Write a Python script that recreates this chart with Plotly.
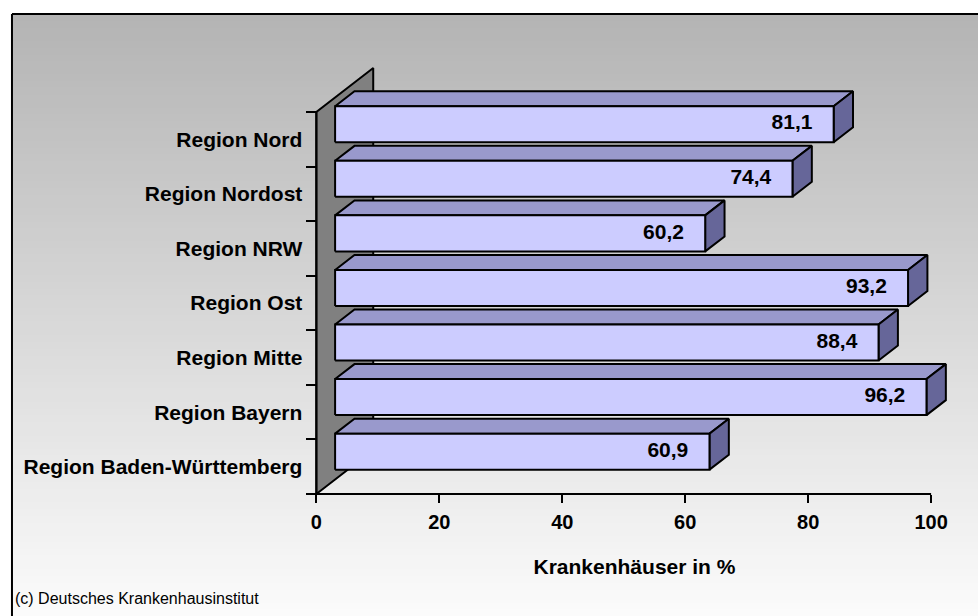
import plotly.graph_objects as go

regions = ["Region Baden-Württemberg", "Region Bayern", "Region Mitte", "Region Ost",
           "Region NRW", "Region Nordost", "Region Nord"]
values = [60.9, 96.2, 88.4, 93.2, 60.2, 74.4, 81.1]
x_ticks = [0, 20, 40, 60, 80, 100]
x_title = "Krankenhäuser in %"
source_note = "(c) Deutsches Krankenhausinstitut"

W, H = 978, 616
FONT = "Liberation Sans, Arial, Helvetica, sans-serif"

# fake 3d: depth of the wall and of the bars, in axis units
WALL_DX, WALL_DY = 9.25, 0.806
FRONT_DX, FRONT_DY = 3.05, 0.276
BAR_DX, BAR_DY = 3.15, 0.274
HALF = 0.33

# pixel layout of the plot (0 -> 315px, 100 -> 931px, categories 112..494px)
px_per_x = (931 - 315) / 100
px_per_y = (494 - 112) / 7
x_range = [-0.5, 104]
y_range = [-0.6, 7.4]
left_px = 315 + x_range[0] * px_per_x
right_px = 315 + x_range[1] * px_per_x
bottom_px = 494 - (y_range[0] + 0.5) * px_per_y
top_px = 494 - (y_range[1] + 0.5) * px_per_y

fig = go.Figure()


def poly(xs, ys, color):
    fig.add_trace(go.Scatter(x=xs + [xs[0]], y=ys + [ys[0]], mode="lines", fill="toself",
                             fillcolor=color, line=dict(color="black", width=2),
                             hoverinfo="skip", showlegend=False))


# side wall
n = len(regions)
poly([0, 0, WALL_DX, WALL_DX],
     [-0.5, n - 0.5, n - 0.5 + WALL_DY, -0.5 + WALL_DY], "#808080")

# bars, back (top) to front (bottom)
for i in reversed(range(n)):
    v = values[i]
    x0, x1 = FRONT_DX, v + FRONT_DX
    y0, y1 = i + FRONT_DY - HALF, i + FRONT_DY + HALF
    poly([x0, x1, x1 + BAR_DX, x0 + BAR_DX], [y1, y1, y1 + BAR_DY, y1 + BAR_DY], "#9999cc")
    poly([x1, x1 + BAR_DX, x1 + BAR_DX, x1], [y0, y0 + BAR_DY, y1 + BAR_DY, y1], "#666699")
    poly([x0, x1, x1, x0], [y0, y0, y1, y1], "#ccccff")

# axis lines
fig.add_trace(go.Scatter(x=[0, 0, x_ticks[-1]], y=[n - 0.5, -0.5, -0.5], mode="lines",
                         line=dict(color="black", width=2), hoverinfo="skip", showlegend=False))

# value labels
fig.add_trace(go.Scatter(
    x=[v - 0.4 for v in values], y=[i + FRONT_DY for i in range(n)], mode="text",
    text=[f"{v:.1f}".replace(".", ",") for v in values],
    textposition="middle left",
    textfont=dict(family=FONT, size=21, color="black", weight="bold"),
    hoverinfo="skip", showlegend=False))

# background gradient + frame
shapes = []
steps = 90
top_y, left_x = 14, 10
for k in range(steps):
    t = k / (steps - 1)
    g = int(round(180 + (251 - 180) * t))
    ya = top_y + (H - top_y) * k / steps
    yb = top_y + (H - top_y) * (k + 1) / steps + 1
    shapes.append(dict(type="rect", xref="paper", yref="paper", layer="below",
                       x0=left_x / W, x1=1, y0=1 - ya / H, y1=1 - yb / H,
                       fillcolor=f"rgb({g},{g},{g})", line=dict(width=0)))
shapes.append(dict(type="line", xref="paper", yref="paper", x0=left_x / W, x1=1,
                   y0=1 - top_y / H, y1=1 - top_y / H, line=dict(color="black", width=2)))
shapes.append(dict(type="line", xref="paper", yref="paper", x0=left_x / W, x1=left_x / W,
                   y0=1 - top_y / H, y1=0, line=dict(color="black", width=2)))

fig.update_layout(
    width=W, height=H, autosize=False,
    margin=dict(l=0, r=0, t=0, b=0),
    paper_bgcolor="white", plot_bgcolor="rgba(0,0,0,0)",
    shapes=shapes,
    xaxis=dict(range=x_range, domain=[left_px / W, right_px / W],
               anchor="free", position=1 - 494 / H,
               tickvals=x_ticks, ticks="outside", ticklen=8, tickwidth=2, tickcolor="black",
               ticklabelstandoff=2,
               showline=False, showgrid=False, zeroline=False,
               tickfont=dict(family=FONT, size=20, color="black", weight="bold"),
               title=dict(text=x_title, standoff=27,
                          font=dict(family=FONT, size=21, color="black", weight="bold"))),
    yaxis=dict(range=y_range, domain=[1 - bottom_px / H, 1 - top_px / H],
               anchor="free", position=315 / W,
               tickvals=list(range(n)), ticktext=regions, ticks="",
               ticklabelstandoff=14,
               minor=dict(tickvals=[i - 0.5 for i in range(n + 1)], ticks="outside",
                          ticklen=10, tickwidth=2, tickcolor="black", showgrid=False),
               showline=False, showgrid=False, zeroline=False,
               tickfont=dict(family=FONT, size=21, color="black", weight="bold")),
    annotations=[dict(text=source_note, xref="paper", yref="paper", x=left_x / W + 0.001,
                      y=1 - 598 / H, xanchor="left", yanchor="middle", showarrow=False,
                      font=dict(family=FONT, size=16, color="black"))],
)

fig.write_html("out.html", config={"displayModeBar": False},
               post_script="document.body.style.margin='0';document.body.style.overflow='hidden';")
